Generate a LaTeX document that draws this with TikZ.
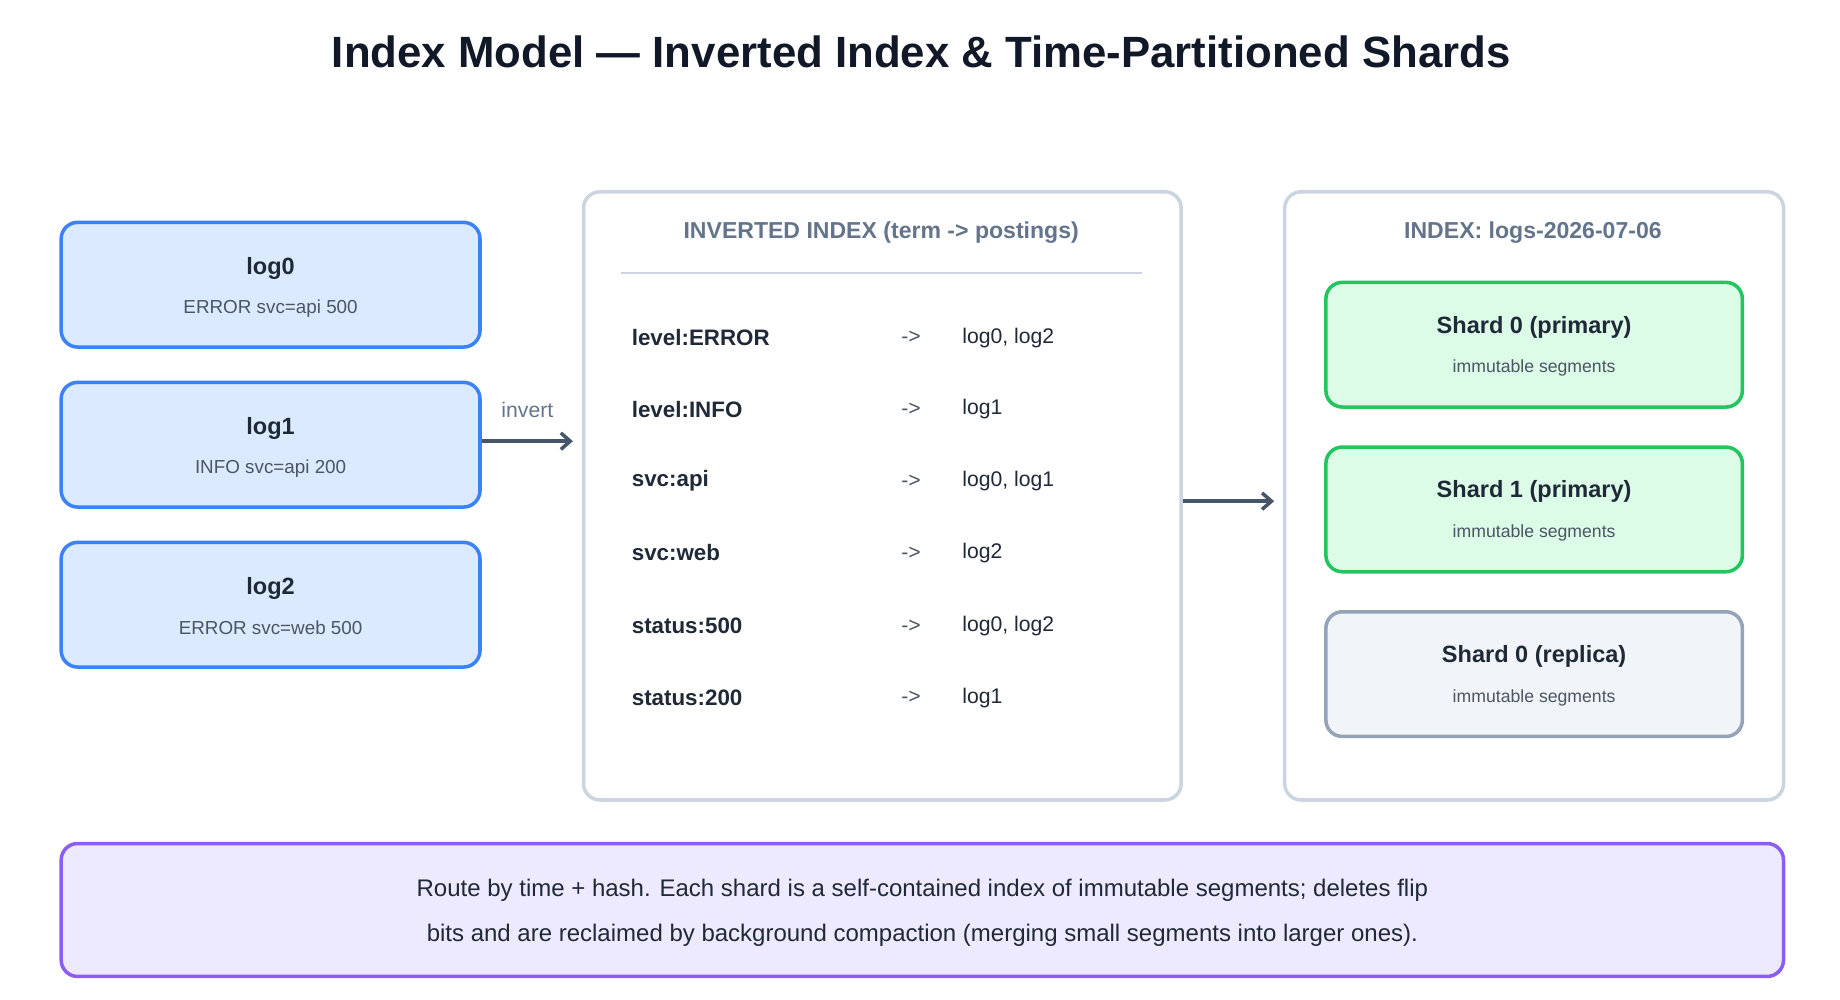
\documentclass[tikz,border=0pt]{standalone}
\usepackage{fontspec}
\setmainfont{Liberation Sans}
\usetikzlibrary{positioning,arrows.meta}
\definecolor{navy}{HTML}{111827}
\definecolor{ink}{HTML}{1F2937}
\definecolor{muted}{HTML}{64748B}
\definecolor{subt}{HTML}{4B5563}
\definecolor{arrowc}{HTML}{475569}
\definecolor{frame}{HTML}{CBD5E1}
\definecolor{logline}{HTML}{3B82F6}
\definecolor{logfill}{HTML}{DBEAFE}
\definecolor{shline}{HTML}{22C55E}
\definecolor{shfill}{HTML}{DCFCE7}
\definecolor{repline}{HTML}{94A3B8}
\definecolor{repfill}{HTML}{F1F5F9}
\definecolor{noteline}{HTML}{8B5CF6}
\definecolor{notefill}{HTML}{EDE9FE}
\tikzset{
  logbox/.style = {draw = logline, fill = logfill, line width = 1.5pt, rounded corners = 7pt, minimum width = 178pt, minimum height = 53pt},
  panel/.style = {draw = frame, fill = white, line width = 1.5pt, rounded corners = 7pt},
  shard/.style = {draw = shline, fill = shfill, line width = 1.5pt, rounded corners = 7pt, minimum width = 177pt, minimum height = 53pt},
  replica/.style = {shard, draw = repline, fill = repfill},
  note/.style = {draw = noteline, fill = notefill, line width = 1.5pt, rounded corners = 7pt},
  head/.style = {font = \fontsize{10}{12}\selectfont\bfseries, text = ink},
  sub/.style = {font = \fontsize{8}{10}\selectfont, text = subt},
  term/.style = {anchor = west, font = \fontsize{9.5}{12}\selectfont\bfseries, text = ink},
  post/.style = {anchor = west, font = \fontsize{9}{12}\selectfont, text = ink},
  flow/.style = {-{Straight Barb[length=4pt,width=7pt]}, draw = arrowc, line width = 1.5pt}
}
\begin{document}
\begin{tikzpicture}[x = 0.5pt, y = -0.5pt]
\useasboundingbox (0,0) rectangle (1564,850);
\node[font = \fontsize{18.6}{22}\selectfont\bfseries, text = navy] (title) at (783,44) {Index Model — Inverted Index \& Time-Partitioned Shards};
% raw log documents
\foreach \i/\y/\txt in {0/242/ERROR svc=api 500, 1/378/INFO svc=api 200, 2/514/ERROR svc=web 500} {
  \node[logbox] (log\i) at (230,\y) {};
  \node[head] at ([yshift=7pt]log\i.center) {log\i};
  \node[sub] at ([yshift=-10pt]log\i.center) {\txt};
}
% inverted index
\node[panel, minimum width = 254pt, minimum height = 258.5pt] (inv) at (750,421.5) {};
\node[font = \fontsize{9.8}{12}\selectfont\bfseries, text = muted] (invhead) at (749,198) {INVERTED INDEX (term -> postings)};
\draw[frame, line width = 0.8pt] (528,232) -- (971,232);
\foreach \y/\t/\p [count = \n] in {287/level:ERROR/{log0, log2}, 348/level:INFO/log1, 409/svc:api/{log0, log1}, 470/svc:web/log2, 532/status:500/{log0, log2}, 593/status:200/log1} {
  \node[term] (t\n) at (530,\y) {\t};
  \node[post, text = subt] (a\n) at (759,\y) {->};
  \node[post] (p\n) at (811,\y) {\p};
}
% shards
\node[panel, minimum width = 212pt, minimum height = 258.5pt] (idx) at (1304,421.5) {};
\node[font = \fontsize{9.8}{12}\selectfont\bfseries, text = muted] (idxhead) at (1303,198) {INDEX: logs-2026-07-06};
\foreach \n/\y/\txt/\sty in {s0/293/Shard 0 (primary)/shard, s1/433/Shard 1 (primary)/shard, r0/573/Shard 0 (replica)/replica} {
  \node[\sty] (\n) at (1304,\y) {};
  \node[head] at ([yshift=7.5pt]\n.center) {\txt};
  \node[sub, font = \fontsize{7.5}{10}\selectfont] at ([yshift=-10pt]\n.center) {immutable segments};
}
% connectors
\coordinate (invin) at (487,375);
\coordinate (idxin) at (1083,426);
\draw[flow] (log1.east |- invin) -- (invin) node[midway, above = 6pt, font = \fontsize{9}{11}\selectfont, text = muted] {invert};
\draw[flow] (inv.east |- idxin) -- (idxin);
% note
\node[note, minimum width = 732pt, minimum height = 56.5pt] (note) at (784,773.5) {};
\node[align = center, font = \fontsize{10.2}{19}\selectfont, text = ink] (notetext) at (784,776) {Route by time + hash. Each shard is a self-contained index of immutable segments; deletes flip\\bits and are reclaimed by background compaction (merging small segments into larger ones).};
\end{tikzpicture}
\end{document}
